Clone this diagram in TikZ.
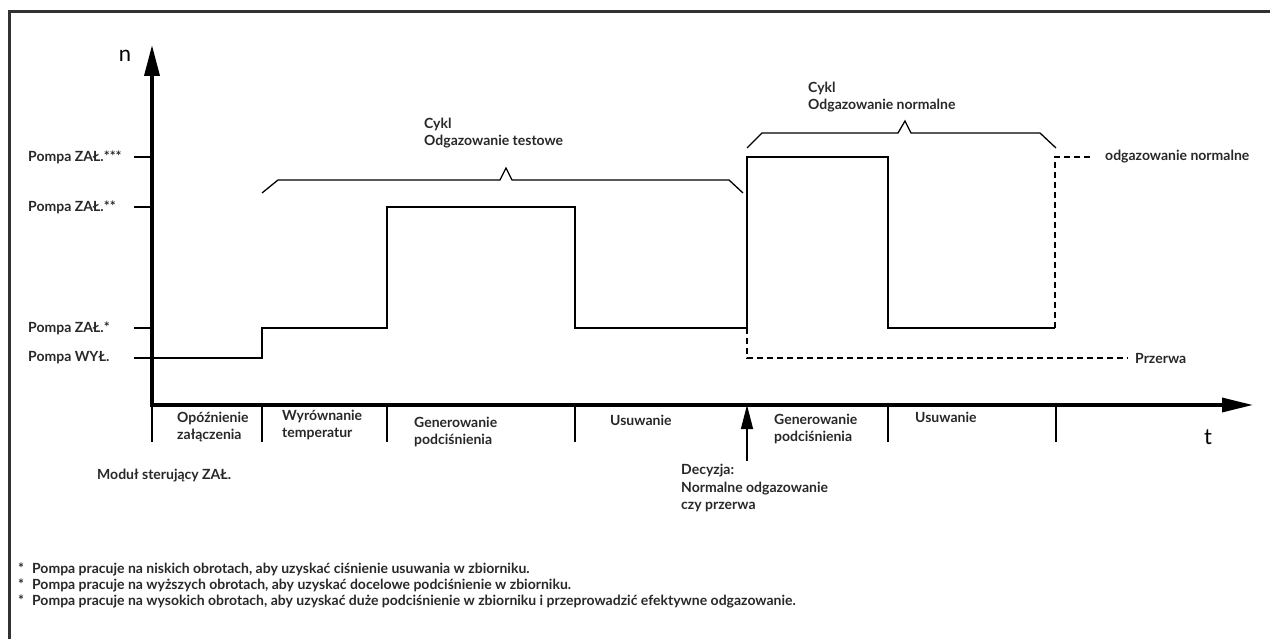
\documentclass[tikz,border=0pt]{standalone}
\usepackage{fontspec}
\setmainfont{Lato}
\usepackage{tikz}
\usetikzlibrary{arrows.meta,positioning}

\definecolor{inkgray}{RGB}{40,40,40}
\definecolor{framegray}{RGB}{50,50,50}

\begin{document}
\begin{tikzpicture}[x=1pt,y=-1pt,
      lbl/.style={font=\bfseries\fontsize{14}{17.5}\selectfont,text=inkgray,
                  inner sep=0pt,align=left,anchor=west},
      axl/.style={font=\fontsize{22}{22}\selectfont,text=black,inner sep=0pt},
      sig/.style={line width=2.8pt,line join=miter},
      thin/.style={line width=1.3pt},
      dsh/.style={line width=1.3pt,dash pattern=on 6pt off 4pt},
      ax/.style={line width=3.6pt,line join=miter,
                 {Triangle[length=31pt,width=15pt]}-{Triangle[length=31pt,width=14pt]}}]
      \useasboundingbox (0,0) rectangle (1270,639);
      \draw[line width=3pt,framegray] (9,639) |- (1270,12);
      % axes
      \coordinate (o) at (152,405);
      \coordinate (ytip) at (152,45);
      \coordinate (xtip) at (1253,405);
      \draw[ax] (ytip) -- (o) -- (xtip);
      \node[axl] (n) at (125,56) {n};
      \node[axl] (t) at (1208,437) {t};
      % levels
      \foreach \i/\y/\t in {3/157/Pompa ZAŁ.***,2/207/Pompa ZAŁ.**,1/328/Pompa ZAŁ.*,0/358/Pompa WYŁ.} {
        \node[lbl] (lvl\i) at (28,\y) {\t};
        \draw[thin] (134,\y) -- (152,\y);
      }
      % pump speed
      \draw[sig] (152,358) -| (262,328) -| (387,207) -| (575,328) -| (747,157) -| (888,328) -- (1055,328);
      \node[lbl] (prz) at (1135,358) {Przerwa};
      \node[lbl] (norm) at (1105,157) {odgazowanie normalne};
      \draw[dsh] (747,328) |- ([xshift=-7pt]prz.west);
      \draw[dsh] (1055,328) |- ([xshift=-13pt]norm.west);
      % cycles
      \draw[thin] (262,193) -- (278,180) -- (500,180) -- (506,168) -- (512,180) -- (729,180) -- (743,193);
      \draw[thin] (747,148) -- (762,133) -- (898,133) -- (905,121) -- (911,133) -- (1040,133) -- (1056,148);
      \node[lbl] (cyk1) at (424,133) {Cykl\\Odgazowanie testowe};
      \node[lbl] (cyk2) at (808,97) {Cykl\\Odgazowanie normalne};
      % phases
      \foreach \x in {152,262,387,575,888,1056} {
        \draw[thin] (\x,405) -- (\x,442);
      }
      \node[lbl] (ph1) at (177,427) {Opóźnienie\\załączenia};
      \node[lbl] (ph2) at (282,425) {Wyrównanie\\temperatur};
      \node[lbl] (ph3) at (414,432) {Generowanie\\podciśnienia};
      \node[lbl] (ph4) at (610,420) {Usuwanie};
      \node[lbl] (ph5) at (774,429) {Generowanie\\podciśnienia};
      \node[lbl] (ph6) at (915,417) {Usuwanie};
      % decision
      \coordinate (dec) at (747,461);
      \draw[thin,-{Triangle[length=24pt,width=12pt]}] (dec) -- (o -| dec);
      \node[lbl] (dect) at (681,488) {Decyzja:\\Normalne odgazowanie\\czy przerwa};
      \node[lbl] (mod) at (97,476) {Moduł sterujący ZAŁ.};
      % notes
      \node[lbl,font=\bfseries\fontsize{14}{16}\selectfont] (fn) at (18,585) {*\hspace{8pt}Pompa pracuje na niskich obrotach, aby uzyskać ciśnienie usuwania w zbiorniku.\\
        *\hspace{8pt}Pompa pracuje na wyższych obrotach, aby uzyskać docelowe podciśnienie w zbiorniku.\\
        *\hspace{8pt}Pompa pracuje na wysokich obrotach, aby uzyskać duże podciśnienie w zbiorniku i przeprowadzić efektywne odgazowanie.};
    \end{tikzpicture}
\end{document}
